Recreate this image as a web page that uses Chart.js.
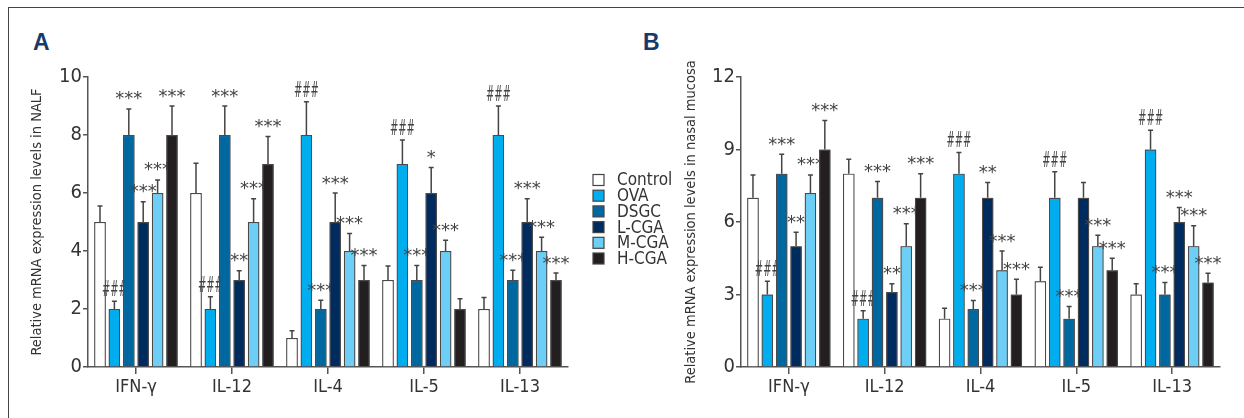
<!DOCTYPE html>
<html>
<head>
<meta charset="utf-8">
<script src="https://cdn.jsdelivr.net/npm/chart.js@4.4.1/dist/chart.umd.min.js"></script>
<style>
  body { margin: 0; background: #fff; width: 1244px; height: 418px; overflow: hidden; position: relative; }
  canvas { position: absolute; top: 0; }
  .frame { position: absolute; left: 8px; top: 7px; width: 1300px; height: 420px; border-top: 1.5px solid #444; border-left: 1.5px solid #444; }
  .panel { position: absolute; top: 31px; font: bold 23px "Liberation Sans", Arial, sans-serif; color: #173a6e; line-height: 23px; }
</style>
</head>
<body>
<div class="frame"></div>
<div class="panel" style="left:33px">A</div>
<div class="panel" style="left:643px">B</div>
<canvas id="chartA" width="680" height="418" style="left:0"></canvas>
<canvas id="chartB" width="614" height="418" style="left:630px"></canvas>
<script>
/* ---------- dados ---------- */
const categorias = ['IFN-γ', 'IL-12', 'IL-4', 'IL-5', 'IL-13'];
const grupos = ['Control', 'OVA', 'DSGC', 'L-CGA', 'M-CGA', 'H-CGA'];
const cores = ['#ffffff', '#00aeef', '#0068a0', '#002b5e', '#6dcff6', '#231f20'];

// painel A (NALF)
const nalfValores = [
  [5, 6, 1, 3, 2],
  [2, 2, 8, 7, 8],
  [8, 8, 2, 3, 3],
  [5, 3, 5, 6, 5],
  [6, 5, 4, 4, 4],
  [8, 7, 3, 2, 3]
];
const nalfErros = [
  [0.55, 1.03, 0.25, 0.48, 0.4],
  [0.27, 0.42, 1.15, 0.83, 1.0],
  [0.9, 1.0, 0.3, 0.5, 0.34],
  [0.7, 0.32, 1.0, 0.88, 0.8],
  [0.45, 0.8, 0.6, 0.37, 0.47],
  [1.0, 0.95, 0.5, 0.35, 0.24]
];
const nalfMarcas = [
  ['', '', '', '', ''],
  ['###', '###', '###', '###', '###'],
  ['***', '***', '***', '***', '***'],
  ['***', '**', '***', '*', '***'],
  ['***', '***', '***', '***', '***'],
  ['***', '***', '***', '', '***']
];
const nalfTicks = { max: 10, step: 2 };

// painel B (mucosa nasal)
const mucosaValores = [
  [7, 8, 2, 3.55, 3],
  [3, 2, 8, 7, 9],
  [8, 7, 2.4, 2, 3],
  [5, 3.1, 7, 7, 6],
  [7.2, 5, 4, 5, 5],
  [9, 7, 3, 4, 3.5]
];
const mucosaErros = [
  [0.95, 0.6, 0.43, 0.58, 0.44],
  [0.55, 0.33, 0.88, 1.08, 0.8],
  [0.8, 0.68, 0.35, 0.5, 0.5],
  [0.58, 0.35, 0.63, 0.63, 0.6],
  [0.75, 0.93, 0.8, 0.45, 0.85],
  [1.2, 1.0, 0.63, 0.5, 0.38]
];
const mucosaMarcas = [
  ['', '', '', '', ''],
  ['###', '###', '###', '###', '###'],
  ['***', '***', '***', '***', '***'],
  ['**', '**', '**', '', '***'],
  ['***', '***', '***', '***', '***'],
  ['***', '***', '***', '***', '***']
];
const mucosaTicks = { max: 12, step: 3 };

/* ---------- estilos ---------- */
const FONTE = '"Liberation Sans Narrow", "DejaVu Sans Condensed", "Roboto Condensed", sans-serif';
const CINZA = '#333';

/* barras de erro + asteriscos, grupo a grupo (a barra seguinte cobre o texto anterior) */
const pluginErros = {
  id: 'erros',
  afterDatasetsDraw(chart, args, opts) {
    const ctx = chart.ctx;
    const y = chart.scales.y;
    ctx.save();
    chart.data.datasets.forEach((ds, i) => {
      const meta = chart.getDatasetMeta(i);
      meta.data.forEach(bar => bar.draw(ctx, chart.chartArea));
      meta.data.forEach((bar, j) => {
        const topo = y.getPixelForValue(ds.data[j] + opts.erros[i][j]);
        ctx.strokeStyle = '#444';
        ctx.lineWidth = 1.5;
        ctx.beginPath();
        ctx.moveTo(bar.x, bar.y);
        ctx.lineTo(bar.x, topo);
        ctx.moveTo(bar.x - 2.5, topo);
        ctx.lineTo(bar.x + 2.5, topo);
        ctx.stroke();

        const txt = opts.marcas[i][j];
        if (!txt) return;
        const hash = txt[0] === '#';
        ctx.font = hash ? '22px ' + FONTE : '18px "DejaVu Sans", sans-serif';
        ctx.fillStyle = '#444';
        ctx.textAlign = 'center';
        ctx.textBaseline = 'alphabetic';
        const m = ctx.measureText(txt);
        const cy = topo - 13;
        const sx = hash ? Math.min(1, 25 / m.width) : 1;
        ctx.save();
        ctx.translate(bar.x, cy + (m.actualBoundingBoxAscent - m.actualBoundingBoxDescent) / 2);
        ctx.scale(sx, 1);
        ctx.fillText(txt, 0, 0);
        ctx.restore();
      });
    });
    ctx.restore();
  }
};

/* legenda entre os paineis */
const pluginLegenda = {
  id: 'legenda',
  afterDraw(chart, args, opts) {
    if (!opts.mostrar) return;
    const ctx = chart.ctx;
    ctx.save();
    chart.data.datasets.forEach((ds, i) => {
      const yc = 180 + i * 15.7;
      ctx.fillStyle = ds.backgroundColor;
      ctx.fillRect(593, yc - 5.5, 11, 11);
      ctx.strokeStyle = '#444';
      ctx.lineWidth = 1.2;
      ctx.strokeRect(593, yc - 5.5, 11, 11);
      ctx.fillStyle = CINZA;
      ctx.font = '17px ' + FONTE;
      ctx.textAlign = 'left';
      ctx.textBaseline = 'middle';
      ctx.fillText(ds.label, 617, yc + 1);
    });
    ctx.restore();
  }
};

function criarGrafico(id, valores, erros, marcas, escala, titulo, cfg) {
  const datasets = grupos.map((g, i) => ({
    label: g,
    data: valores[i],
    backgroundColor: cores[i],
    borderColor: '#4a4a4a',
    borderWidth: 1.2,
    categoryPercentage: 0.9,
    barPercentage: 0.8
  }));

  return new Chart(document.getElementById(id), {
    type: 'bar',
    data: { labels: categorias, datasets },
    plugins: [pluginErros, pluginLegenda],
    options: {
      responsive: false,
      animation: false,
      layout: { padding: { left: 0, top: 77, right: cfg.direita, bottom: 0 }, autoPadding: false },
      plugins: {
        legend: { display: false },
        tooltip: { enabled: false },
        erros: { erros, marcas },
        legenda: { mostrar: cfg.legenda }
      },
      scales: {
        x: {
          grid: { display: true, drawOnChartArea: false, offset: false, tickLength: 7, color: '#555', lineWidth: 1.5 },
          border: { color: '#555', width: 1.5 },
          ticks: { font: { family: FONTE, size: 18 }, color: CINZA, padding: 3 },
          afterFit: s => { s.height = 51; }
        },
        y: {
          min: 0,
          max: escala.max,
          ticks: { stepSize: escala.step, font: { family: FONTE, size: 20 }, color: CINZA, padding: 1 },
          grid: { drawOnChartArea: false, tickLength: 5, color: '#555', lineWidth: 1.5 },
          border: { color: '#555', width: 1.5 },
          title: { display: true, text: titulo, font: { family: FONTE, size: 14.5 }, color: CINZA, padding: { top: cfg.padTitulo, bottom: 0 } },
          afterFit: s => { s.width = cfg.larguraY; }
        }
      }
    }
  });
}

criarGrafico('chartA', nalfValores, nalfErros, nalfMarcas, nalfTicks,
  'Relative mRNA expression levels in NALF',
  { direita: 112, larguraY: 88, padTitulo: 29, legenda: true });

criarGrafico('chartB', mucosaValores, mucosaErros, mucosaMarcas, mucosaTicks,
  'Relative mRNA expression levels in nasal mucosa',
  { direita: 24, larguraY: 111, padTitulo: 53, legenda: false });
</script>
</body>
</html>
